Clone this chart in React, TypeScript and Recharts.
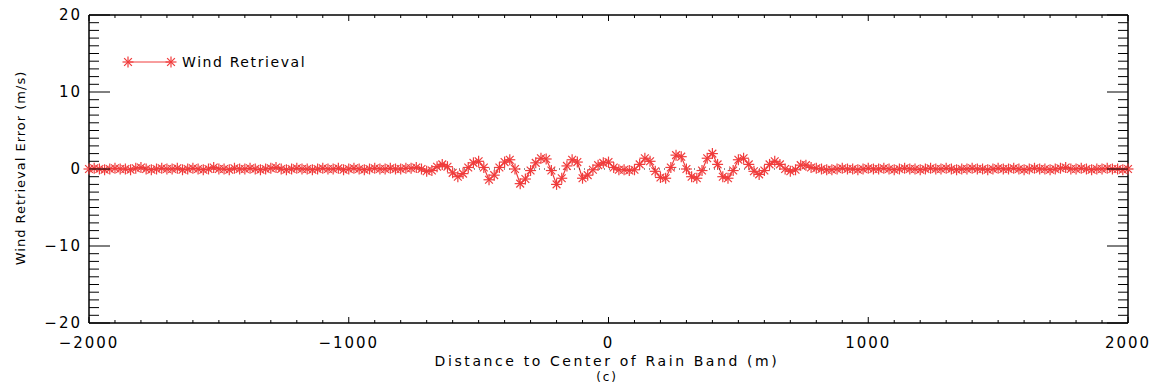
import React from 'react'
import {
  LineChart,
  Line,
  XAxis,
  YAxis,
  Legend,
  ReferenceLine,
  ReferenceArea,
} from 'recharts'

const RED = '#f03c3c'
const FONT = '"DejaVu Sans", sans-serif'

// distance grid: -2000 .. 2000 m every 20 m
const startDistance = -2000
const stepDistance = 20

// retrieval error (m/s), flat part left of the rain band (-2000 .. -820)
const leftFlat = [
  0.0, 0.1, 0.0, -0.1, 0.0, 0.1, 0.0, 0.0, -0.1, 0.1,
  0.2, 0.0, -0.1, 0.0, 0.1, 0.0, 0.0, 0.1, -0.1, 0.0,
  0.1, 0.0, -0.1, 0.0, 0.2, 0.0, 0.0, -0.1, 0.1, 0.0,
  0.0, 0.1, 0.0, -0.1, 0.0, 0.1, 0.2, 0.0, -0.1, 0.0,
  0.1, 0.0, 0.0, -0.1, 0.0, 0.1, 0.0, 0.0, 0.1, -0.1,
  0.0, 0.1, 0.0, -0.1, 0.0, 0.1, 0.0, 0.0, 0.1, 0.0,
]

// oscillating part across the band (-800 .. 800)
const bandValues = [
  0.0, 0.1, 0.1, 0.2, 0.0, -0.3, -0.2, 0.3, 0.6, 0.3,
  -0.5, -1.0, -0.6, 0.2, 0.8, 1.0, 0.2, -1.4, -0.8, 0.2,
  0.9, 1.2, 0.0, -1.9, -1.3, -0.2, 0.8, 1.4, 1.3, -0.2,
  -2.0, -1.2, 0.4, 1.2, 0.9, -1.2, -0.8, -0.1, 0.5, 0.8,
  0.9, 0.2, -0.1, -0.1, -0.2, -0.1, 0.6, 1.4, 1.0, -0.3,
  -1.1, -1.2, 0.2, 1.8, 1.6, 0.0, -1.0, -1.2, -0.2, 1.4,
  2.0, 0.6, -1.0, -1.2, -0.2, 1.2, 1.4, 0.6, -0.3, -0.7,
  -0.2, 0.6, 1.0, 0.6, 0.0, -0.3, -0.1, 0.5, 0.5, 0.2,
  0.1,
]

// flat part right of the band (820 .. 2000)
const rightFlat = [
  0.0, -0.1, -0.1, 0.0, 0.1, 0.0, 0.0, -0.1, 0.0, 0.1,
  0.0, 0.0, 0.1, 0.0, -0.1, 0.0, 0.1, 0.0, 0.0, -0.1,
  0.0, 0.1, 0.0, 0.0, 0.1, 0.0, -0.1, 0.0, 0.0, 0.1,
  0.0, 0.0, -0.1, 0.0, 0.1, 0.0, 0.0, 0.1, 0.0, -0.1,
  0.0, 0.1, 0.0, 0.0, -0.1, 0.0, 0.1, 0.2, 0.0, 0.0,
  0.1, 0.0, -0.1, 0.0, 0.0, 0.1, 0.0, 0.0, -0.1, 0.0,
]

const xTicks = [
  -2000, -1900, -1800, -1700, -1600, -1500, -1400, -1300, -1200, -1100,
  -1000, -900, -800, -700, -600, -500, -400, -300, -200, -100,
  0, 100, 200, 300, 400, 500, 600, 700, 800, 900,
  1000, 1100, 1200, 1300, 1400, 1500, 1600, 1700, 1800, 1900, 2000,
]
const yTicks = [
  -20, -19, -18, -17, -16, -15, -14, -13, -12, -11,
  -10, -9, -8, -7, -6, -5, -4, -3, -2, -1,
  0, 1, 2, 3, 4, 5, 6, 7, 8, 9,
  10, 11, 12, 13, 14, 15, 16, 17, 18, 19, 20,
]

const errors = [...leftFlat, ...bandValues, ...rightFlat]
const data = errors.map((v, i) => ({ x: startDistance + i * stepDistance, err: v }))

const fmt = (v: number) => (v < 0 ? '\u2212' + Math.abs(v) : String(v))

function Star({ cx, cy, r = 5.5 }: { cx: number; cy: number; r?: number }) {
  const d = r * 0.707
  return (
    <g stroke={RED} strokeWidth={1.2}>
      <line x1={cx - r} y1={cy} x2={cx + r} y2={cy} />
      <line x1={cx} y1={cy - r} x2={cx} y2={cy + r} />
      <line x1={cx - d} y1={cy - d} x2={cx + d} y2={cy + d} />
      <line x1={cx - d} y1={cy + d} x2={cx + d} y2={cy - d} />
    </g>
  )
}

const renderDot = (p: any) => {
  if (p.cx == null || p.cy == null) return <g key={p.index} />
  return <Star key={p.index} cx={p.cx} cy={p.cy} />
}

const BottomTick = ({ x, y, payload }: any) => {
  const major = payload.value % 1000 === 0
  return (
    <g>
      <line x1={x} y1={y} x2={x} y2={y - (major ? 6 : 3)} stroke="#000" />
      {major && (
        <text x={x} y={y + 20} textAnchor="middle" dominantBaseline="central"
          fontFamily={FONT} fontSize={15} letterSpacing={2} fill="#000">
          {fmt(payload.value)}
        </text>
      )}
    </g>
  )
}

const TopTick = ({ x, y, payload }: any) => {
  const major = payload.value % 1000 === 0
  return <line x1={x} y1={y} x2={x} y2={y + (major ? 6 : 3)} stroke="#000" />
}

const LeftTick = ({ x, y, payload }: any) => {
  const major = payload.value % 10 === 0
  return (
    <g>
      <line x1={x} y1={y} x2={x + (major ? 21 : 10)} y2={y} stroke="#000" />
      {major && (
        <text x={x - 7} y={y} textAnchor="end" dominantBaseline="central"
          fontFamily={FONT} fontSize={15} letterSpacing={2} fill="#000">
          {fmt(payload.value)}
        </text>
      )}
    </g>
  )
}

const RightTick = ({ x, y, payload }: any) => {
  const major = payload.value % 10 === 0
  return <line x1={x} y1={y} x2={x - (major ? 21 : 10)} y2={y} stroke="#000" />
}

const LegendBox = () => (
  <svg width={200} height={20}>
    <line x1={6} y1={8} x2={49} y2={8} stroke={RED} />
    <Star cx={6} cy={8} />
    <Star cx={49} cy={8} />
    <text x={60} y={8} dominantBaseline="central" fontFamily={FONT}
      fontSize={14} letterSpacing={1.6} fill="#000">Wind Retrieval</text>
  </svg>
)

export default function App() {
  return (
    <div style={{ position: 'absolute', left: 0, top: 0, width: 1153, height: 385, background: '#fff' }}>
      <LineChart width={1153} height={385} data={data}
        margin={{ top: 14, right: 24, bottom: 32, left: 29 }}>
        <XAxis dataKey="x" type="number" domain={[-2000, 2000]} ticks={xTicks} interval={0}
          height={30} tickSize={0} tickMargin={0} tickLine={false} tick={<BottomTick />}
          axisLine={{ stroke: '#000' }} />
        <XAxis xAxisId="top" orientation="top" dataKey="x" type="number" domain={[-2000, 2000]}
          ticks={xTicks} interval={0} height={1} tickSize={0} tickMargin={0} tickLine={false}
          tick={<TopTick />} axisLine={{ stroke: '#000' }} />
        <YAxis type="number" domain={[-20, 20]} ticks={yTicks} interval={0} width={60}
          tickSize={0} tickMargin={0} tickLine={false} tick={<LeftTick />}
          axisLine={{ stroke: '#000' }} />
        <YAxis yAxisId="right" orientation="right" type="number" domain={[-20, 20]} ticks={yTicks}
          interval={0} width={1} tickSize={0} tickMargin={0} tickLine={false} tick={<RightTick />}
          axisLine={{ stroke: '#000' }} />
        <Legend content={<LegendBox />} layout="horizontal" verticalAlign="middle" align="center"
          wrapperStyle={{ position: 'absolute', left: 122, top: 54, width: 200 }} />
        <ReferenceArea x1={-2000} x2={2000} y1={-20} y2={20} fill="none" fillOpacity={0}
          stroke="#000" strokeWidth={1} />
        {/* invisible copy so the top and right axes get drawn */}
        <Line xAxisId="top" yAxisId="right" dataKey="err" stroke="none" dot={false}
          legendType="none" isAnimationActive={false} />
        <Line dataKey="err" stroke={RED} strokeWidth={1.2} dot={renderDot}
          isAnimationActive={false} />
        <ReferenceLine y={0} stroke="#222" strokeDasharray="1 4" strokeWidth={1} />
      </LineChart>
      <svg width={1153} height={385} style={{ position: 'absolute', left: 0, top: 0, pointerEvents: 'none' }}>
        <text x={607} y={361} textAnchor="middle" dominantBaseline="central" fontFamily={FONT}
          fontSize={14} letterSpacing={2.6} fill="#000">Distance to Center of Rain Band (m)</text>
        <text x={607} y={377} textAnchor="middle" dominantBaseline="central" fontFamily={FONT}
          fontSize={12} letterSpacing={1.8} fill="#000">(c)</text>
        <text x={20} y={168} textAnchor="middle" dominantBaseline="central" fontFamily={FONT}
          fontSize={13} letterSpacing={1} fill="#000" transform="rotate(-90 20 168)">
          Wind Retrieval Error (m/s)
        </text>
      </svg>
    </div>
  )
}
